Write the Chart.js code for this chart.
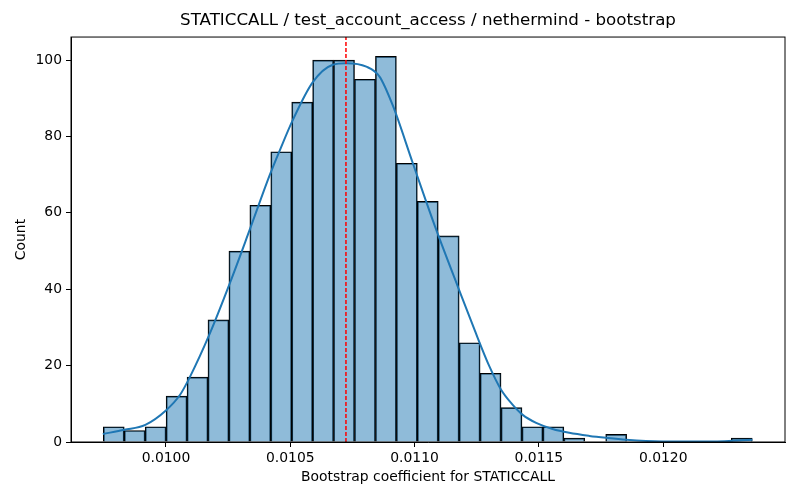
<!DOCTYPE html>
<html lang="en">

<head>
    <meta charset="UTF-8">
    <title>STATICCALL bootstrap histogram</title>
    <script src="https://cdn.jsdelivr.net/npm/chart.js"></script>
    <style>
        body {
            margin: 0;
            background: #fff;
        }
    </style>
</head>

<body>
    <canvas id="hist" width="800" height="500"></canvas>

    <script>
        // histogram bins (centres) and counts
        const binCenters = [
            0.0097901, 0.0098743, 0.0099585, 0.0100427, 0.0101269, 0.0102111, 0.0102953, 0.0103795,
            0.0104637, 0.0105479, 0.0106321, 0.0107163, 0.0108005, 0.0108847, 0.0109689, 0.0110531,
            0.0111373, 0.0112215, 0.0113057, 0.0113899, 0.0114741, 0.0115583, 0.0116425, 0.0117267,
            0.0118109, 0.0118951, 0.0119793, 0.0120635, 0.0121477, 0.0122319, 0.0123161
        ];
        const binCounts = [
            4, 3, 4, 12, 17, 32, 50, 62, 76, 89, 100, 100, 95, 101, 73, 63,
            54, 26, 18, 9, 4, 4, 1, 0, 2, 0, 0, 0, 0, 0, 1
        ];

        // kde curve, sampled by eye
        const kdeX = [
            0.009746, 0.009833, 0.009917, 0.010002, 0.010056, 0.010096, 0.010177, 0.010257,
            0.010337, 0.010418, 0.010458, 0.010510, 0.010590, 0.010671, 0.010726, 0.010806,
            0.010859, 0.010912, 0.010993, 0.011087, 0.011174, 0.011241, 0.011301, 0.011348,
            0.011394, 0.011435, 0.011489, 0.011555, 0.011622, 0.011703, 0.011770, 0.011851,
            0.011996, 0.012171, 0.012305, 0.012359
        ];
        const kdeY = [
            2.1, 3.2, 4.5, 8.4, 12.3, 17.0, 28.5, 41.6,
            55.6, 70.0, 76.4, 84.3, 94.2, 98.8, 99.2, 98.3,
            95.7, 88.2, 73.0, 55.6, 40.7, 29.4, 19.8, 13.7,
            9.8, 7.1, 5.0, 3.4, 2.4, 1.6, 1.1, 0.6,
            0.15, 0.1, 0.4, 0.6
        ];

        const meanValue = 0.010724;

        const xTicks = [0.0100, 0.0105, 0.0110, 0.0115, 0.0120];
        const yTicks = [0, 20, 40, 60, 80, 100];
        const xMin = 0.009618;
        const xMax = 0.012490;
        const yMax = 106.05;

        Chart.defaults.font.family = '"DejaVu Sans", sans-serif';
        Chart.defaults.color = '#000';

        // black frame round the plot area (matplotlib spines)
        const frame = {
            id: 'frame',
            afterDatasetsDraw(chart) {
                const a = chart.chartArea;
                const ctx = chart.ctx;
                ctx.save();
                ctx.strokeStyle = '#000';
                ctx.lineWidth = 1;
                ctx.strokeRect(a.left, a.top, a.right - a.left, a.bottom - a.top);
                ctx.restore();
            }
        };

        const ctx = document.getElementById('hist').getContext('2d');
        new Chart(ctx, {
            type: 'bar',
            data: {
                datasets: [
                    {
                        type: 'line',
                        data: [{ x: meanValue, y: 0 }, { x: meanValue, y: yMax }],
                        borderColor: '#ff0000',
                        borderWidth: 1.5,
                        borderDash: [4, 2],
                        pointRadius: 0,
                        order: 1
                    },
                    {
                        type: 'line',
                        data: kdeX.map((x, i) => ({ x: x, y: kdeY[i] })),
                        borderColor: '#1f77b4',
                        borderWidth: 2,
                        pointRadius: 0,
                        cubicInterpolationMode: 'monotone',
                        order: 2
                    },
                    {
                        type: 'bar',
                        data: binCenters.map((x, i) => ({ x: x, y: binCounts[i] })),
                        backgroundColor: 'rgba(31,119,180,0.5)',
                        borderColor: '#000',
                        borderWidth: 1,
                        borderSkipped: 'start',
                        barPercentage: 1,
                        categoryPercentage: 1,
                        grouped: false,
                        order: 3
                    }
                ]
            },
            options: {
                responsive: false,
                animation: false,
                devicePixelRatio: 1,
                layout: { padding: { left: 0, right: 15, top: 0, bottom: 0 } },
                plugins: {
                    legend: { display: false },
                    tooltip: { enabled: false },
                    title: {
                        display: true,
                        fullSize: false,
                        text: 'STATICCALL / test_account_access / nethermind - bootstrap',
                        font: { size: 16.7, weight: 'normal' },
                        padding: { top: 11, bottom: 6 }
                    }
                },
                scales: {
                    x: {
                        type: 'linear',
                        min: xMin,
                        max: xMax,
                        offset: false,
                        afterBuildTicks: (s) => { s.ticks = xTicks.map(v => ({ value: v })); },
                        afterFit: (s) => { s.height = 58; },
                        ticks: {
                            font: { size: 13.9 },
                            padding: 3,
                            maxRotation: 0,
                            callback: (v) => Number(v).toFixed(4)
                        },
                        grid: {
                            offset: false,
                            drawOnChartArea: false,
                            drawTicks: true,
                            tickLength: 5,
                            color: '#000'
                        },
                        border: { display: true, color: '#000', width: 1 },
                        title: {
                            display: true,
                            text: 'Bootstrap coefficient for STATICCALL',
                            font: { size: 13.9 },
                            padding: { top: 0, bottom: 14.7 }
                        }
                    },
                    y: {
                        min: 0,
                        max: yMax,
                        afterBuildTicks: (s) => { s.ticks = yTicks.map(v => ({ value: v })); },
                        afterFit: (s) => { s.width = 71; },
                        ticks: { font: { size: 13.9 }, padding: 4 },
                        grid: {
                            drawOnChartArea: false,
                            drawTicks: true,
                            tickLength: 5,
                            color: '#000'
                        },
                        border: { display: true, color: '#000', width: 1 },
                        title: {
                            display: true,
                            text: 'Count',
                            font: { size: 13.9 },
                            padding: { top: 12.7, bottom: 12.7 }
                        }
                    }
                }
            },
            plugins: [frame]
        });
    </script>
</body>

</html>
